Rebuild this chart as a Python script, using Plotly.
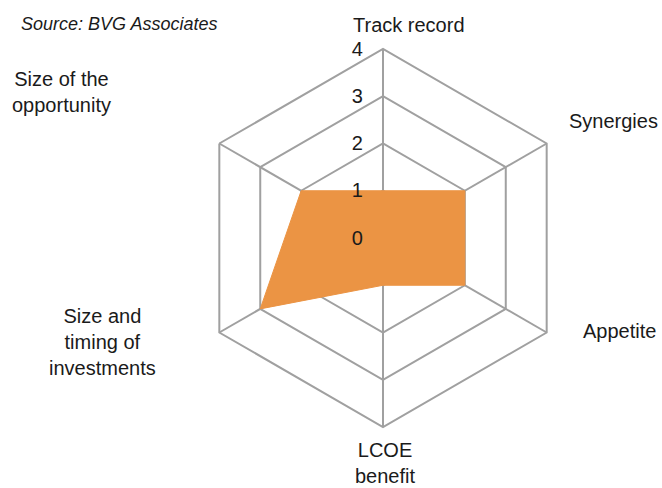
import plotly.graph_objects as go

categories = ["Track record", "Synergies", "Appetite", "LCOE benefit",
              "Size and timing of investments", "Size of the opportunity"]
values = [1, 2, 2, 1, 3, 2]
label_text = ["Track record", "Synergies", "Appetite", "LCOE<br>benefit",
              "Size and<br>timing of<br>investments", "Size of the<br>opportunity"]
tick_vals = [0, 1, 2, 3, 4]
source_text = "Source: BVG Associates"

W, H = 662, 488
FONT = "Arial, Liberation Sans, sans-serif"
GRID = "#a0a0a0"

fig = go.Figure()
fig.add_trace(go.Scatterpolar(
    r=values + values[:1],
    theta=categories + categories[:1],
    mode="lines",
    fill="toself",
    fillcolor="#EB9444",
    line=dict(color="#EB9444", width=1),
    hoverinfo="skip",
))

# label positions (pixels) -> paper coordinates
label_px = [(409, 25), (613, 121), (619, 331), (385, 463), (102, 342), (61, 92)]
annotations = []
for txt, (px, py) in zip(label_text, label_px):
    annotations.append(dict(
        text=txt, x=px / W, y=1 - py / H, xref="paper", yref="paper",
        xanchor="center", yanchor="middle", showarrow=False,
        font=dict(family=FONT, size=20, color="#1a1a1a")))
annotations.append(dict(
    text="<i>" + source_text + "</i>", x=19 / W, y=1 - 24 / H,
    xref="paper", yref="paper", xanchor="left", yanchor="middle",
    showarrow=False, font=dict(family=FONT, size=18, color="#1a1a1a")))

cx, cy, R = 383, 238, 189
pad = "\u00a0" * 3
fig.update_layout(
    width=W, height=H,
    margin=dict(l=0, r=0, t=0, b=0),
    paper_bgcolor="white",
    plot_bgcolor="white",
    showlegend=False,
    font=dict(family=FONT, color="#1a1a1a"),
    annotations=annotations,
    polar=dict(
        domain=dict(x=[(cx - R) / W, (cx + R) / W],
                    y=[1 - (cy + R) / H, 1 - (cy - R) / H]),
        gridshape="linear",
        bgcolor="white",
        radialaxis=dict(
            range=[0, 4], tickvals=tick_vals,
            ticktext=[str(v) + pad for v in tick_vals],
            angle=90, tickangle=90, side="counterclockwise",
            showline=False, gridcolor=GRID, gridwidth=2,
            ticks="", tickfont=dict(family=FONT, size=20, color="#1a1a1a"),
        ),
        angularaxis=dict(
            rotation=90, direction="clockwise",
            showticklabels=False, ticks="",
            showline=True, linecolor=GRID, linewidth=2,
            gridcolor=GRID, gridwidth=2,
        ),
    ),
)

fig.write_html("out.html", config={"displayModeBar": False},
               post_script="document.body.style.margin='0';document.body.style.overflow='hidden';")
